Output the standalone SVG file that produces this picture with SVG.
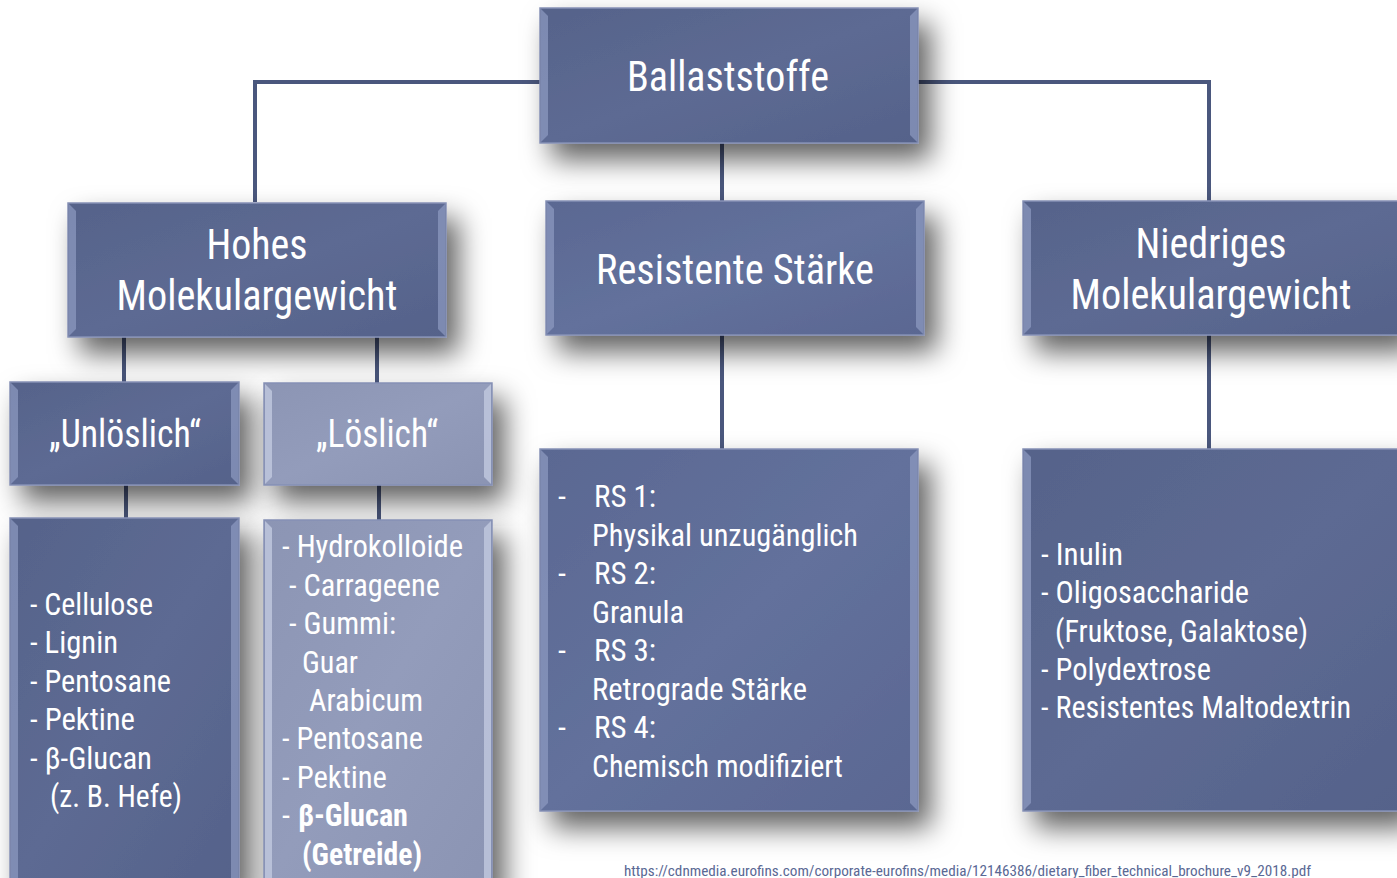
<svg xmlns="http://www.w3.org/2000/svg" width="1397" height="878" viewBox="0 0 1397 878">
<defs>
<filter id="sh" x="-30%" y="-30%" width="170%" height="170%">
<feDropShadow dx="12" dy="16" stdDeviation="14" flood-color="#000" flood-opacity="0.62"/>
</filter>
<linearGradient id="gd" x1="0" y1="0" x2="1" y2="1">
<stop offset="0" stop-color="#56638a"/><stop offset="0.5" stop-color="#5d6a93"/><stop offset="1" stop-color="#55628a"/>
</linearGradient>
<linearGradient id="gr" x1="0" y1="0" x2="1" y2="1">
<stop offset="0" stop-color="#5a6892"/><stop offset="0.5" stop-color="#63719c"/><stop offset="1" stop-color="#5a6792"/>
</linearGradient>
<linearGradient id="gl" x1="0" y1="0" x2="1" y2="1">
<stop offset="0" stop-color="#8c95b4"/><stop offset="0.5" stop-color="#939cbb"/><stop offset="1" stop-color="#8b94b3"/>
</linearGradient>
</defs>
<style>
.box{stroke:#8590b5;stroke-width:1.5}
.bev{fill:#8f9bc2;opacity:0.7}
.bevl{fill:#c2c9e0;opacity:0.8}
.t{font-family:"Roboto Condensed","Roboto","Liberation Sans Narrow",sans-serif;fill:#fff}
.c{stroke:#4a577d;stroke-width:4;fill:none}
</style>
<rect width="1397" height="878" fill="#fff"/>
<g id="connectors">
<path class="c" d="M255,202 V82 H541"/>
<path class="c" d="M917,82 H1209 V202"/>
<path class="c" d="M722,142 V202"/>
<path class="c" d="M124,336 V383"/>
<path class="c" d="M377,336 V384"/>
<path class="c" d="M126,484 V519"/>
<path class="c" d="M379,484 V521"/>
<path class="c" d="M722,334 V450"/>
<path class="c" d="M1209,334 V450"/>
</g>
<g id="ballaststoffe">
<rect class="box" x="540" y="8" width="378" height="135" fill="url(#gd)" filter="url(#sh)"/>
<polygon class="bev" points="541,9 548,16 548,135 541,142"/>
<polygon class="bev" points="917,9 910,16 910,135 917,142"/>
<text class="t" x="728" y="91" font-size="42" text-anchor="middle" textLength="202" lengthAdjust="spacingAndGlyphs">Ballaststoffe</text>
</g>
<g id="hohes">
<rect class="box" x="68" y="203" width="378" height="134" fill="url(#gd)" filter="url(#sh)"/>
<polygon class="bev" points="69,204 76,211 76,329 69,336"/>
<polygon class="bev" points="445,204 438,211 438,329 445,336"/>
<text class="t" x="257" y="259" font-size="42" text-anchor="middle" textLength="101" lengthAdjust="spacingAndGlyphs">Hohes</text>
<text class="t" x="257" y="310" font-size="42" text-anchor="middle" textLength="281" lengthAdjust="spacingAndGlyphs">Molekulargewicht</text>
</g>
<g id="resistente">
<rect class="box" x="546" y="201" width="378" height="134" fill="url(#gr)" filter="url(#sh)"/>
<polygon class="bev" points="547,202 554,209 554,327 547,334"/>
<polygon class="bev" points="923,202 916,209 916,327 923,334"/>
<text class="t" x="735" y="284" font-size="42" text-anchor="middle" textLength="278" lengthAdjust="spacingAndGlyphs">Resistente Stärke</text>
</g>
<g id="niedriges">
<rect class="box" x="1023" y="201" width="380" height="134" fill="url(#gd)" filter="url(#sh)"/>
<polygon class="bev" points="1024,202 1031,209 1031,327 1024,334"/>
<text class="t" x="1211" y="258" font-size="42" text-anchor="middle" textLength="151" lengthAdjust="spacingAndGlyphs">Niedriges</text>
<text class="t" x="1211" y="309" font-size="42" text-anchor="middle" textLength="281" lengthAdjust="spacingAndGlyphs">Molekulargewicht</text>
</g>
<g id="unloeslich">
<rect class="box" x="10" y="382" width="229" height="103" fill="url(#gd)" filter="url(#sh)"/>
<polygon class="bev" points="11,383 18,390 18,477 11,484"/>
<polygon class="bev" points="238,383 231,390 231,477 238,484"/>
<text class="t" x="125" y="447" font-size="38" text-anchor="middle" textLength="152" lengthAdjust="spacingAndGlyphs">„Unlöslich“</text>
</g>
<g id="loeslich">
<rect class="box" x="264" y="383" width="228" height="102" fill="url(#gl)" filter="url(#sh)"/>
<polygon class="bevl" points="265,384 272,391 272,477 265,484"/>
<polygon class="bevl" points="491,384 484,391 484,477 491,484"/>
<text class="t" x="377" y="447" font-size="38" text-anchor="middle" textLength="122" lengthAdjust="spacingAndGlyphs">„Löslich“</text>
</g>
<g id="unloeslich-liste">
<rect class="box" x="10" y="518" width="229" height="370" fill="url(#gd)" filter="url(#sh)"/>
<polygon class="bev" points="11,519 18,526 18,878 11,878"/>
<polygon class="bev" points="238,519 231,526 231,878 238,878"/>
<g class="t" font-size="32">
<text x="30" y="615" textLength="123" lengthAdjust="spacingAndGlyphs">- Cellulose</text>
<text x="30" y="653" textLength="88" lengthAdjust="spacingAndGlyphs">- Lignin</text>
<text x="30" y="692" textLength="141" lengthAdjust="spacingAndGlyphs">- Pentosane</text>
<text x="30" y="730" textLength="105" lengthAdjust="spacingAndGlyphs">- Pektine</text>
<text x="30" y="769" textLength="122" lengthAdjust="spacingAndGlyphs">- β-Glucan</text>
<text x="50" y="807" textLength="132" lengthAdjust="spacingAndGlyphs">(z. B. Hefe)</text>
</g>
</g>
<g id="loeslich-liste">
<rect class="box" x="264" y="520" width="228" height="370" fill="url(#gl)" filter="url(#sh)"/>
<polygon class="bevl" points="265,521 272,528 272,878 265,878"/>
<polygon class="bevl" points="491,521 484,528 484,878 491,878"/>
<g class="t" font-size="32">
<text x="282" y="557" textLength="181" lengthAdjust="spacingAndGlyphs">- Hydrokolloide</text>
<text x="289" y="596" textLength="151" lengthAdjust="spacingAndGlyphs">- Carrageene</text>
<text x="289" y="634" textLength="107" lengthAdjust="spacingAndGlyphs">- Gummi:</text>
<text x="302" y="673" textLength="56" lengthAdjust="spacingAndGlyphs">Guar</text>
<text x="309" y="711" textLength="114" lengthAdjust="spacingAndGlyphs">Arabicum</text>
<text x="282" y="749" textLength="141" lengthAdjust="spacingAndGlyphs">- Pentosane</text>
<text x="282" y="788" textLength="105" lengthAdjust="spacingAndGlyphs">- Pektine</text>
<text x="282" y="826">-</text><text x="298" y="826" font-weight="bold" textLength="110" lengthAdjust="spacingAndGlyphs">β-Glucan</text>
<text x="302" y="865" font-weight="bold" textLength="120" lengthAdjust="spacingAndGlyphs">(Getreide)</text>
</g>
</g>
<g id="rs-liste">
<rect class="box" x="540" y="449" width="378" height="362" fill="url(#gr)" filter="url(#sh)"/>
<polygon class="bev" points="541,450 548,457 548,803 541,810"/>
<polygon class="bev" points="917,450 910,457 910,803 917,810"/>
<g class="t" font-size="32">
<text x="558" y="507">-</text><text x="594" y="507" textLength="62" lengthAdjust="spacingAndGlyphs">RS 1:</text>
<text x="592" y="546" textLength="266" lengthAdjust="spacingAndGlyphs">Physikal unzugänglich</text>
<text x="558" y="584">-</text><text x="594" y="584" textLength="62" lengthAdjust="spacingAndGlyphs">RS 2:</text>
<text x="592" y="623" textLength="92" lengthAdjust="spacingAndGlyphs">Granula</text>
<text x="558" y="661">-</text><text x="594" y="661" textLength="62" lengthAdjust="spacingAndGlyphs">RS 3:</text>
<text x="592" y="700" textLength="215" lengthAdjust="spacingAndGlyphs">Retrograde Stärke</text>
<text x="558" y="738">-</text><text x="594" y="738" textLength="62" lengthAdjust="spacingAndGlyphs">RS 4:</text>
<text x="592" y="777" textLength="251" lengthAdjust="spacingAndGlyphs">Chemisch modifiziert</text>
</g>
</g>
<g id="niedriges-liste">
<rect class="box" x="1023" y="449" width="380" height="362" fill="url(#gd)" filter="url(#sh)"/>
<polygon class="bev" points="1024,450 1031,457 1031,803 1024,810"/>
<g class="t" font-size="32">
<text x="1041" y="565" textLength="82" lengthAdjust="spacingAndGlyphs">- Inulin</text>
<text x="1041" y="603" textLength="208" lengthAdjust="spacingAndGlyphs">- Oligosaccharide</text>
<text x="1055" y="642" textLength="253" lengthAdjust="spacingAndGlyphs">(Fruktose, Galaktose)</text>
<text x="1041" y="680" textLength="170" lengthAdjust="spacingAndGlyphs">- Polydextrose</text>
<text x="1041" y="718" textLength="310" lengthAdjust="spacingAndGlyphs">- Resistentes Maltodextrin</text>
</g>
</g>
<text x="624" y="876" font-family="Roboto Condensed, Roboto, sans-serif" font-size="15" fill="#5a6894" textLength="687" lengthAdjust="spacingAndGlyphs">https://cdnmedia.eurofins.com/corporate-eurofins/media/12146386/dietary_fiber_technical_brochure_v9_2018.pdf</text>
</svg>
